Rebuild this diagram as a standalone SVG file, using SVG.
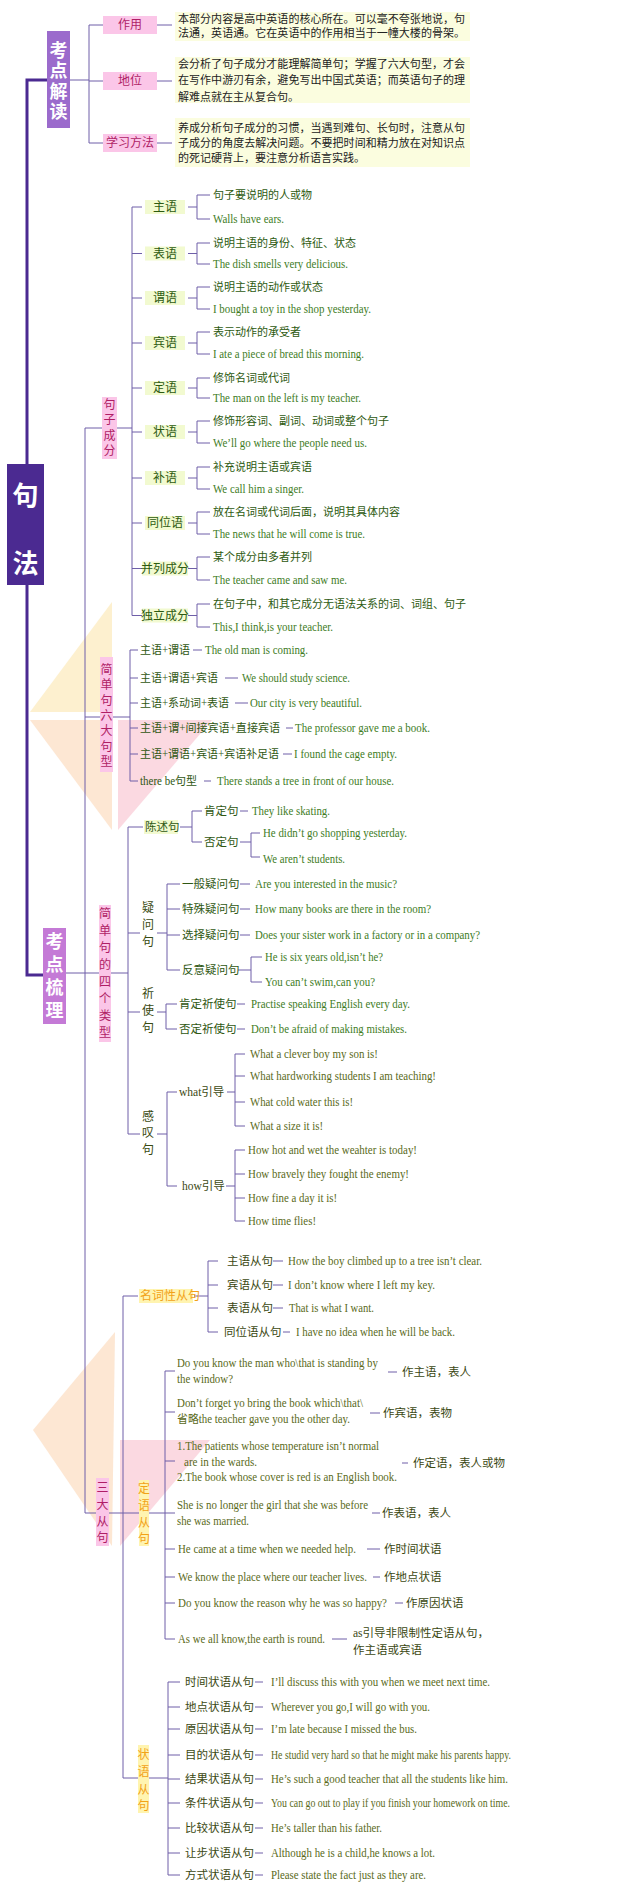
<svg xmlns="http://www.w3.org/2000/svg" width="640" height="1890" viewBox="0 0 640 1890">
<style>
text{font-family:"Liberation Serif","Noto Sans CJK SC",serif;dominant-baseline:central}
.ln{stroke:#6e5fa8;stroke-width:1;fill:none}
.mn{stroke:#4b2a91;stroke-width:3;fill:none}
.wt{fill:#fff;font-weight:bold;text-anchor:middle;font-family:"Noto Sans CJK SC",sans-serif}
.wv{fill:#fff;font-weight:bold;font-family:"Noto Sans CJK SC",sans-serif;writing-mode:vertical-rl;text-orientation:upright;text-anchor:start}
.pkb{fill:#fbc6e8}
.pkt{fill:#b01e66;font-size:12px;text-anchor:middle}
.tb{fill:#fbfddf}
.tt{fill:#222;font-size:11px}
.hl{fill:#f2fad0}
.lb{fill:#2d5a10;font-size:12px;text-anchor:middle}
.cd{fill:#2d5a10;font-size:11px}
.en{fill:#3e7c1e;font-size:11.5px}
.lc{fill:#2f5712;font-size:11.5px}
.vl{fill:#3a4a12;font-size:12px;text-anchor:middle}
.ol{fill:#5a6a1a;font-size:11.5px}
.oc{fill:#3b4812;font-size:11.5px}
.or{fill:#f2a218;font-size:12px}
.orv{fill:#f2a218;font-size:12px;text-anchor:middle}
.orb{fill:#fff4b0}
</style>

<g id="watermark" opacity="0.5">
<polygon points="30,712 112,602 112,712" fill="#fde3a0"/>
<polygon points="30,720 112,720 112,830" fill="#fcd0a8"/>
<polygon points="118,720 212,720 118,830" fill="#f9b4c4"/>
<polygon points="115,1332 33,1430 112,1546" fill="#fcd0a8"/>
<polygon points="120,1440 210,1440 120,1546" fill="#f9b4c4"/>
</g>

<g id="connectors">
<path class="mn" d="M47,80 H27 V464 M27,585 V975 H43"/>
<path class="ln" d="M70,80 H89 M89,25 V143 M89,25 H103 M89,81 H103 M89,143 H103 M157,25 H172 M157,81 H172 M157,143 H172"/>
<path class="ln" d="M85,428 V1513 H96 M66,973 H128"/>
<path class="ln" d="M85,428 H102 M117,428 H132 M132,207 V615.5
M132,207 H142 M132,253.5 H142 M132,298 H142 M132,343 H142 M132,388 H142 M132,432 H142 M132,478 H142 M132,523 H142 M132,568.5 H142 M132,615.5 H142
M188,207 H197 M210,195 H197 V219 H210
M188,253.5 H197 M210,243 H197 V264 H210
M188,298 H197 M210,287 H197 V309 H210
M188,343 H197 M210,332 H197 V354 H210
M188,388 H197 M210,378 H197 V398 H210
M188,432 H197 M210,421 H197 V443 H210
M188,478 H197 M210,467 H197 V489 H210
M188,523 H197 M210,512 H197 V534 H210
M188,568.5 H197 M210,557 H197 V580 H210
M188,615.5 H197 M210,604 H197 V627 H210"/>
<path class="ln" d="M85,717 H100 M113,717 H130 M130,650 V781 M130,650 H138 M130,678 H138 M130,703 H138 M130,728 H138 M130,754 H138 M130,781 H138
M193,650 H202 M225,678 H238 M235,703 H248 M286,728 H293 M283,754 H292 M204,781 H211"/>
<path class="ln" d="M128,827 V1134 M128,827 H143 M180,827 H192 M202,811 H192 V842 H202 M240,811 H248 M240,842 H251 M260,833 H251 V857 H260
M128,933 H140 M157,933 H167 M180,884 H167 V970 H180 M167,909 H180 M167,935 H180 M240,909 H250 M240,935 H250 M238,970 H251 M262,957 H251 V982 H262
M128,1012 H140 M157,1012 H166 M177,1004 H166 V1029 H177 M237,1004 H245 M237,1029 H245
M128,1134 H140 M157,1134 H167 M177,1092 H167 V1186 H177 M227,1092 H235 M245,1054 H235 V1126 H245 M235,1076 H245 M235,1102 H245
M226,1186 H235 M245,1150 H235 V1221 H245 M235,1174 H245 M235,1198 H245"/>
<path class="ln" stroke-width="2" d="M240,884 H250"/>
<path class="ln" d="M109,1513 H139 M123,1296 V1778 H138 M123,1296 H138 M194,1296 H208 M218,1261 H208 V1332 H218 M208,1285 H218 M208,1308 H218
M273,1261 H283 M273,1285 H283 M273,1308 H283 M283,1332 H290
M149,1513 H165 M175,1371 H165 V1639 H175 M165,1412 H175 M165,1461 H175 M165,1513 H175 M165,1549 H175 M165,1577 H175 M165,1603 H175
M388,1372 H397 M370,1413 H380 M402,1463 H408 M372,1513 H380 M367,1549 H380 M373,1577 H380 M395,1603 H403 M332,1639 H347
M149,1778 H168 M180,1682 H168 V1875 H180 M168,1707 H180 M168,1729 H180 M168,1755 H180 M168,1779 H180 M168,1803 H180 M168,1828 H180 M168,1853 H180
M255,1682 H263 M255,1707 H263 M255,1729 H263 M255,1755 H263 M255,1779 H263 M255,1803 H263 M255,1828 H263 M255,1853 H263 M255,1875 H263"/>
</g>

<g id="n-jufa"><rect x="7" y="464" width="37" height="121" fill="#4b2a91"/><text class="wt" x="25.5" y="493" font-size="26">句</text><text class="wt" x="25.5" y="561" font-size="26">法</text></g>

<g id="n-kdjd"><rect x="47" y="31" width="23" height="97" fill="#9b6bcc"/>
<text class="wv" x="58.5" y="41" font-size="18" letter-spacing="2.5">考点解读</text></g>

<g id="n-zuoyong"><rect class="pkb" x="103" y="16" width="54" height="18"/><text class="pkt" x="130" y="25">作用</text></g>
<g id="n-diwei"><rect class="pkb" x="103" y="72" width="54" height="18"/><text class="pkt" x="130" y="81">地位</text></g>
<g id="n-xuexi"><rect class="pkb" x="103" y="134" width="54" height="18"/><text class="pkt" x="130" y="143">学习方法</text></g>

<g id="t-zuoyong"><rect class="tb" x="175" y="12" width="295" height="29"/>
<text class="tt" x="178" y="19" textLength="287" lengthAdjust="spacing">本部分内容是高中英语的核心所在。可以毫不夸张地说，句</text>
<text class="tt" x="178" y="33" textLength="287" lengthAdjust="spacing">法通，英语通。它在英语中的作用相当于一幢大楼的骨架。</text></g>
<g id="t-diwei"><rect class="tb" x="175" y="57" width="295" height="46"/>
<text class="tt" x="178" y="64" textLength="287" lengthAdjust="spacing">会分析了句子成分才能理解简单句；学握了六大句型，才会</text>
<text class="tt" x="178" y="80" textLength="287" lengthAdjust="spacing">在写作中游刃有余，避免写出中国式英语；而英语句子的理</text>
<text class="tt" x="178" y="97">解难点就在主从复合句。</text></g>
<g id="t-xuexi"><rect class="tb" x="175" y="118" width="295" height="49"/>
<text class="tt" x="178" y="128" textLength="287" lengthAdjust="spacing">养成分析句子成分的习惯，当遇到难句、长句时，注意从句</text>
<text class="tt" x="178" y="143" textLength="287" lengthAdjust="spacing">子成分的角度去解决问题。不要把时间和精力放在对知识点</text>
<text class="tt" x="178" y="158">的死记硬背上，要注意分析语言实践。</text></g>

<g id="n-kdsl"><rect x="43" y="928" width="23" height="96" fill="#c47ad6"/>
<text class="wv" x="54.5" y="932" font-size="18" letter-spacing="5">考点梳理</text></g>

<g id="n-jzcf"><rect class="pkb" x="102" y="397" width="15" height="62"/>
<text class="pkt" x="109.5" y="405">句</text><text class="pkt" x="109.5" y="420">子</text><text class="pkt" x="109.5" y="436">成</text><text class="pkt" x="109.5" y="451">分</text></g>

<g id="n-zhuyu"><rect class="hl" x="145" y="200" width="40" height="14"/><text class="lb" x="165" y="207">主语</text>
<text class="cd" x="213" y="195">句子要说明的人或物</text><text class="en" x="213" y="219" textLength="71" lengthAdjust="spacingAndGlyphs">Walls have ears.</text></g>
<g id="n-biaoyu"><rect class="hl" x="145" y="246.5" width="40" height="14"/><text class="lb" x="165" y="253.5">表语</text>
<text class="cd" x="213" y="243">说明主语的身份、特征、状态</text><text class="en" x="213" y="264" textLength="135" lengthAdjust="spacingAndGlyphs">The dish smells very delicious.</text></g>
<g id="n-weiyu"><rect class="hl" x="145" y="291" width="40" height="14"/><text class="lb" x="165" y="298">谓语</text>
<text class="cd" x="213" y="287">说明主语的动作或状态</text><text class="en" x="213" y="309" textLength="158" lengthAdjust="spacingAndGlyphs">I bought a toy in the shop yesterday.</text></g>
<g id="n-binyu"><rect class="hl" x="145" y="336" width="40" height="14"/><text class="lb" x="165" y="343">宾语</text>
<text class="cd" x="213" y="332">表示动作的承受者</text><text class="en" x="213" y="354" textLength="151" lengthAdjust="spacingAndGlyphs">I ate a piece of bread this morning.</text></g>
<g id="n-dingyu"><rect class="hl" x="145" y="381" width="40" height="14"/><text class="lb" x="165" y="388">定语</text>
<text class="cd" x="213" y="378">修饰名词或代词</text><text class="en" x="213" y="398" textLength="148" lengthAdjust="spacingAndGlyphs">The man on the left is my teacher.</text></g>
<g id="n-zhuangyu"><rect class="hl" x="145" y="425" width="40" height="14"/><text class="lb" x="165" y="432">状语</text>
<text class="cd" x="213" y="421">修饰形容词、副词、动词或整个句子</text><text class="en" x="213" y="443" textLength="154" lengthAdjust="spacingAndGlyphs">We’ll go where the people need us.</text></g>
<g id="n-buyu"><rect class="hl" x="145" y="471" width="40" height="14"/><text class="lb" x="165" y="478">补语</text>
<text class="cd" x="213" y="467">补充说明主语或宾语</text><text class="en" x="213" y="489" textLength="91" lengthAdjust="spacingAndGlyphs">We call him a singer.</text></g>
<g id="n-tongwei"><rect class="hl" x="145" y="516" width="40" height="14"/><text class="lb" x="165" y="523">同位语</text>
<text class="cd" x="213" y="512">放在名词或代词后面，说明其具体内容</text><text class="en" x="213" y="534" textLength="152" lengthAdjust="spacingAndGlyphs">The news that he will come is true.</text></g>
<g id="n-binglie"><rect class="hl" x="142" y="561.5" width="46" height="14"/><text class="lb" x="165" y="568.5">并列成分</text>
<text class="cd" x="213" y="557">某个成分由多者并列</text><text class="en" x="213" y="580" textLength="134" lengthAdjust="spacingAndGlyphs">The teacher came and saw me.</text></g>
<g id="n-duli"><rect class="hl" x="142" y="608.5" width="46" height="14"/><text class="lb" x="165" y="615.5">独立成分</text>
<text class="cd" x="213" y="604">在句子中，和其它成分无语法关系的词、词组、句子</text><text class="en" x="213" y="627" textLength="120" lengthAdjust="spacingAndGlyphs">This,I think,is your teacher.</text></g>

<g id="n-liuda"><rect class="pkb" x="100" y="657" width="13" height="115"/>
<text class="pkt" x="106.5" y="670">简</text><text class="pkt" x="106.5" y="685">单</text><text class="pkt" x="106.5" y="701">句</text><text class="pkt" x="106.5" y="716">六</text><text class="pkt" x="106.5" y="731">大</text><text class="pkt" x="106.5" y="747">句</text><text class="pkt" x="106.5" y="762">型</text></g>
<g id="n-s1"><text class="lc" x="140" y="650" textLength="50" lengthAdjust="spacingAndGlyphs">主语+谓语</text><text class="en" x="205" y="650" textLength="103" lengthAdjust="spacingAndGlyphs">The old man is coming.</text></g>
<g id="n-s2"><text class="lc" x="140" y="678" textLength="78" lengthAdjust="spacingAndGlyphs">主语+谓语+宾语</text><text class="en" x="242" y="678" textLength="108" lengthAdjust="spacingAndGlyphs">We should study science.</text></g>
<g id="n-s3"><text class="lc" x="140" y="703" textLength="89" lengthAdjust="spacingAndGlyphs">主语+系动词+表语</text><text class="en" x="250" y="703" textLength="112" lengthAdjust="spacingAndGlyphs">Our city is very beautiful.</text></g>
<g id="n-s4"><text class="lc" x="140" y="728" textLength="140" lengthAdjust="spacingAndGlyphs">主语+谓+间接宾语+直接宾语</text><text class="en" x="295" y="728" textLength="135" lengthAdjust="spacingAndGlyphs">The professor gave me a book.</text></g>
<g id="n-s5"><text class="lc" x="140" y="754" textLength="139" lengthAdjust="spacingAndGlyphs">主语+谓语+宾语+宾语补足语</text><text class="en" x="294" y="754" textLength="103" lengthAdjust="spacingAndGlyphs">I found the cage empty.</text></g>
<g id="n-s6"><text class="lc" x="140" y="781" textLength="57" lengthAdjust="spacingAndGlyphs">there be句型</text><text class="en" x="217" y="781" textLength="177" lengthAdjust="spacingAndGlyphs">There stands a tree in front of our house.</text></g>

<g id="n-sige"><rect class="pkb" x="99" y="905" width="12" height="137"/>
<text class="pkt" x="105" y="914">简</text><text class="pkt" x="105" y="931">单</text><text class="pkt" x="105" y="948">句</text><text class="pkt" x="105" y="965">的</text><text class="pkt" x="105" y="982">四</text><text class="pkt" x="105" y="999">个</text><text class="pkt" x="105" y="1016">类</text><text class="pkt" x="105" y="1033">型</text></g>

<g id="n-chenshu"><rect class="hl" x="144" y="820" width="34" height="14"/><text class="lc" x="145" y="827">陈述句</text></g>
<g id="n-kending"><text class="lc" x="204" y="811">肯定句</text><text class="en" x="252" y="811" textLength="78" lengthAdjust="spacingAndGlyphs">They like skating.</text></g>
<g id="n-fouding"><text class="lc" x="204" y="842">否定句</text>
<text class="en" x="263" y="833" textLength="144" lengthAdjust="spacingAndGlyphs">He didn’t go shopping yesterday.</text>
<text class="en" x="263" y="859" textLength="82" lengthAdjust="spacingAndGlyphs">We aren’t students.</text></g>

<g id="n-yiwen"><text class="vl" x="148" y="908">疑</text><text class="vl" x="148" y="925">问</text><text class="vl" x="148" y="942">句</text></g>
<g id="n-yiban"><text class="lc" x="182" y="884">一般疑问句</text><text class="en" x="255" y="884" textLength="142" lengthAdjust="spacingAndGlyphs">Are you interested in the music?</text></g>
<g id="n-teshu"><text class="lc" x="182" y="909">特殊疑问句</text><text class="en" x="255" y="909" textLength="176" lengthAdjust="spacingAndGlyphs">How many books are there in the room?</text></g>
<g id="n-xuanze"><text class="lc" x="182" y="935">选择疑问句</text><text class="en" x="255" y="935" textLength="225" lengthAdjust="spacingAndGlyphs">Does your sister work in a factory or in a company?</text></g>
<g id="n-fanyi"><text class="lc" x="182" y="970">反意疑问句</text>
<text class="en" x="265" y="957" textLength="118" lengthAdjust="spacingAndGlyphs">He is six years old,isn’t he?</text>
<text class="en" x="265" y="982" textLength="110" lengthAdjust="spacingAndGlyphs">You can’t swim,can you?</text></g>

<g id="n-qishi"><text class="vl" x="148" y="994">祈</text><text class="vl" x="148" y="1011">使</text><text class="vl" x="148" y="1028">句</text></g>
<g id="n-kdqs"><text class="lc" x="179" y="1004">肯定祈使句</text><text class="en" x="251" y="1004" textLength="159" lengthAdjust="spacingAndGlyphs">Practise speaking English every day.</text></g>
<g id="n-fdqs"><text class="lc" x="179" y="1029">否定祈使句</text><text class="en" x="251" y="1029" textLength="156" lengthAdjust="spacingAndGlyphs">Don’t be afraid of making mistakes.</text></g>

<g id="n-gantan"><text class="vl" x="148" y="1117">感</text><text class="vl" x="148" y="1133">叹</text><text class="vl" x="148" y="1150">句</text></g>
<g id="n-what"><text class="oc" x="179" y="1092">what引导</text>
<text class="ol" x="250" y="1054" textLength="128" lengthAdjust="spacingAndGlyphs">What a clever boy my son is!</text>
<text class="ol" x="250" y="1076" textLength="186" lengthAdjust="spacingAndGlyphs">What hardworking students I am teaching!</text>
<text class="ol" x="250" y="1102" textLength="103" lengthAdjust="spacingAndGlyphs">What cold water this is!</text>
<text class="ol" x="250" y="1126" textLength="73" lengthAdjust="spacingAndGlyphs">What a size it is!</text></g>
<g id="n-how"><text class="oc" x="182" y="1186">how引导</text>
<text class="ol" x="248" y="1150" textLength="169" lengthAdjust="spacingAndGlyphs">How hot and wet the weahter is today!</text>
<text class="ol" x="248" y="1174" textLength="161" lengthAdjust="spacingAndGlyphs">How bravely they fought the enemy!</text>
<text class="ol" x="248" y="1198" textLength="89" lengthAdjust="spacingAndGlyphs">How fine a day it is!</text>
<text class="ol" x="248" y="1221" textLength="68" lengthAdjust="spacingAndGlyphs">How time flies!</text></g>

<g id="n-sanda"><rect class="pkb" x="96" y="1478" width="13" height="68"/>
<text class="pkt" x="102.5" y="1488">三</text><text class="pkt" x="102.5" y="1505">大</text><text class="pkt" x="102.5" y="1522">从</text><text class="pkt" x="102.5" y="1538">句</text></g>

<g id="n-mingci"><rect class="orb" x="139" y="1289" width="54" height="14"/><text class="or" x="140" y="1296">名词性从句</text></g>
<g id="n-zhuyucj"><text class="oc" x="227" y="1261">主语从句</text><text class="ol" x="288" y="1261" textLength="194" lengthAdjust="spacingAndGlyphs">How the boy climbed up to a tree isn’t clear.</text></g>
<g id="n-binyucj"><text class="oc" x="227" y="1285">宾语从句</text><text class="ol" x="288" y="1285" textLength="147" lengthAdjust="spacingAndGlyphs">I don’t know where I left my key.</text></g>
<g id="n-biaoyucj"><text class="oc" x="227" y="1308">表语从句</text><text class="ol" x="289" y="1308" textLength="85" lengthAdjust="spacingAndGlyphs">That is what I want.</text></g>
<g id="n-tongweicj"><text class="oc" x="224" y="1332">同位语从句</text><text class="ol" x="296" y="1332" textLength="159" lengthAdjust="spacingAndGlyphs">I have no idea when he will be back.</text></g>

<g id="n-dingyucj"><rect class="orb" x="139" y="1480" width="10" height="66"/>
<text class="orv" x="144" y="1489">定</text><text class="orv" x="144" y="1506">语</text><text class="orv" x="144" y="1523">从</text><text class="orv" x="144" y="1539">句</text></g>
<g id="n-d1"><text class="ol" x="177" y="1363" textLength="201" lengthAdjust="spacingAndGlyphs">Do you know the man who\that is standing by</text>
<text class="ol" x="177" y="1379" textLength="56" lengthAdjust="spacingAndGlyphs">the window?</text><text class="oc" x="402" y="1372">作主语，表人</text></g>
<g id="n-d2"><text class="ol" x="177" y="1403" textLength="186" lengthAdjust="spacingAndGlyphs">Don’t forget yo bring the book which\that\</text>
<text class="ol" x="177" y="1419" textLength="173" lengthAdjust="spacingAndGlyphs">省略the teacher gave you the other day.</text><text class="oc" x="383" y="1413">作宾语，表物</text></g>
<g id="n-d3"><text class="ol" x="177" y="1446" textLength="202" lengthAdjust="spacingAndGlyphs">1.The patients whose temperature isn’t normal</text>
<text class="ol" x="184" y="1462" textLength="73" lengthAdjust="spacingAndGlyphs">are in the wards.</text>
<text class="ol" x="177" y="1477" textLength="220" lengthAdjust="spacingAndGlyphs">2.The book whose cover is red is an English book.</text><text class="oc" x="413" y="1463">作定语，表人或物</text></g>
<g id="n-d4"><text class="ol" x="177" y="1505" textLength="191" lengthAdjust="spacingAndGlyphs">She is no longer the girl that she was before</text>
<text class="ol" x="177" y="1521" textLength="72" lengthAdjust="spacingAndGlyphs">she was married.</text><text class="oc" x="382" y="1513">作表语，表人</text></g>
<g id="n-d5"><text class="ol" x="178" y="1549" textLength="178" lengthAdjust="spacingAndGlyphs">He came at a time when we needed help.</text><text class="oc" x="384" y="1549">作时间状语</text></g>
<g id="n-d6"><text class="ol" x="178" y="1577" textLength="189" lengthAdjust="spacingAndGlyphs">We know the place where our teacher lives.</text><text class="oc" x="384" y="1577">作地点状语</text></g>
<g id="n-d7"><text class="ol" x="178" y="1603" textLength="209" lengthAdjust="spacingAndGlyphs">Do you know the reason why he was so happy?</text><text class="oc" x="406" y="1603">作原因状语</text></g>
<g id="n-d8"><text class="ol" x="178" y="1639" textLength="147" lengthAdjust="spacingAndGlyphs">As we all know,the earth is round.</text>
<text class="oc" x="353" y="1633">as引导非限制性定语从句，</text><text class="oc" x="353" y="1650">作主语或宾语</text></g>

<g id="n-zhuangyucj"><rect class="orb" x="138" y="1745" width="11" height="68"/>
<text class="orv" x="143.5" y="1755">状</text><text class="orv" x="143.5" y="1772">语</text><text class="orv" x="143.5" y="1790">从</text><text class="orv" x="143.5" y="1806">句</text></g>
<g id="n-z1"><text class="oc" x="185" y="1682">时间状语从句</text><text class="ol" x="271" y="1682" textLength="219" lengthAdjust="spacingAndGlyphs">I’ll discuss this with you when we meet next time.</text></g>
<g id="n-z2"><text class="oc" x="185" y="1707">地点状语从句</text><text class="ol" x="271" y="1707" textLength="159" lengthAdjust="spacingAndGlyphs">Wherever you go,I will go with you.</text></g>
<g id="n-z3"><text class="oc" x="185" y="1729">原因状语从句</text><text class="ol" x="271" y="1729" textLength="146" lengthAdjust="spacingAndGlyphs">I’m late because I missed the bus.</text></g>
<g id="n-z4"><text class="oc" x="185" y="1755">目的状语从句</text><text class="ol" x="271" y="1755" textLength="240" lengthAdjust="spacingAndGlyphs">He studid very hard so that he might make his parents happy.</text></g>
<g id="n-z5"><text class="oc" x="185" y="1779">结果状语从句</text><text class="ol" x="271" y="1779" textLength="237" lengthAdjust="spacingAndGlyphs">He’s such a good teacher that all the students like him.</text></g>
<g id="n-z6"><text class="oc" x="185" y="1803">条件状语从句</text><text class="ol" x="271" y="1803" textLength="239" lengthAdjust="spacingAndGlyphs">You can go out to play if you finish your homework on time.</text></g>
<g id="n-z7"><text class="oc" x="185" y="1828">比较状语从句</text><text class="ol" x="271" y="1828" textLength="111" lengthAdjust="spacingAndGlyphs">He’s taller than his father.</text></g>
<g id="n-z8"><text class="oc" x="185" y="1853">让步状语从句</text><text class="ol" x="271" y="1853" textLength="164" lengthAdjust="spacingAndGlyphs">Although he is a child,he knows a lot.</text></g>
<g id="n-z9"><text class="oc" x="185" y="1875">方式状语从句</text><text class="ol" x="271" y="1875" textLength="155" lengthAdjust="spacingAndGlyphs">Please state the fact just as they are.</text></g>
</svg>
